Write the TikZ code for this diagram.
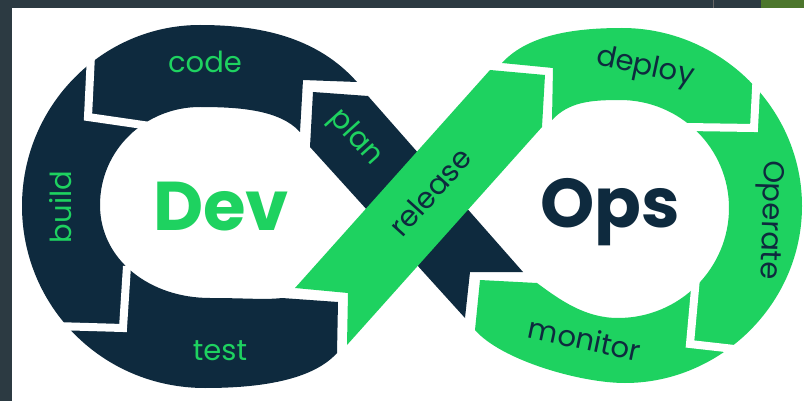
\documentclass[tikz,border=0pt]{standalone}
\usepackage{fontspec}
\setmainfont{Poppins}
\definecolor{navy}{RGB}{14,42,62}
\definecolor{leaf}{RGB}{30,210,96}
\definecolor{frame}{RGB}{44,58,66}
\definecolor{olive}{RGB}{76,118,44}

\begin{document}
\begin{tikzpicture}[x=1pt, y=-1pt,
      gap/.style = {draw=white, line width=8pt, line join=miter},
      lbl/.style = {inner sep=0pt, font=\fontsize{29}{29}\selectfont},
      big/.style = {inner sep=0pt, anchor=base west, font=\fontsize{69}{69}\selectfont\bfseries}]
    \useasboundingbox (0,0) rectangle (804,401);
    % frame
    \fill[frame] (0,0) rectangle (804,401);
    \fill[white] (12,8) rectangle (804,401);
    \fill[olive] (761,0) rectangle (804,8);
    \draw[black!60, line width=1pt] (713,0) -- (713,8);
    % left loop
    \fill[navy] (357,82) .. controls (317,37) and (260,25) .. (200,25)
      .. controls (102,25) and (22,106) .. (22,206)
      .. controls (22,306) and (102,388) .. (205,388)
      .. controls (250,388) and (310,383) .. (337,353)
      -- (338,302) -- (282,298)
      .. controls (265,300) and (245,298) .. (210,298)
      .. controls (150,298) and (100,260) .. (100,205)
      .. controls (100,150) and (145,107) .. (200,107)
      .. controls (240,107) and (280,110) .. (300,132)
      -- (303,80) -- cycle;
    \draw[gap] (91,55) -- (88,117) -- (150,126);
    \draw[gap] (127,266) -- (123,328) -- (54,326);
    % crossing bands
    \fill[navy] (313,92) -- (368,96) -- (523,272) -- (470,272) -- (465,318) -- (310,147) -- cycle;
    \fill[leaf] (348,293) -- (295,288) -- (490,70) -- (545,75) -- (542,127) -- (347,345) -- cycle;
    % right loop
    \fill[leaf] (553,68) -- (502,63) .. controls (529,33) and (580,28) .. (622,28)
      .. controls (720,28) and (802,108) .. (802,206)
      .. controls (802,304) and (720,383) .. (625,383)
      .. controls (580,383) and (501,360) .. (475,330)
      -- (480,280) -- (537,283)
      .. controls (560,300) and (585,318) .. (618,318)
      .. controls (680,318) and (729,268) .. (729,208)
      .. controls (729,148) and (680,100) .. (620,100)
      .. controls (590,100) and (569,102) .. (552,120) -- cycle;
    \draw[gap] (757,70) -- (754,128) -- (686,127);
    \draw[gap] (696,278) -- (690,344) -- (752,351);
    % words
    \node[big, text=leaf] (dev) at (153,230) {Dev};
    \node[big, text=navy] (ops) at (540,227) {Ops};
    \node[lbl, text=leaf] (code) at (205,62) {code};
    \node[lbl, text=leaf, rotate=90] (build) at (61,207) {build};
    \node[lbl, text=leaf] (test) at (220,351) {test};
    \node[lbl, text=leaf, rotate=-48] (plan) at (355,138) {plan};
    \node[lbl, text=navy, rotate=48] (release) at (430,192) {release};
    \node[lbl, text=navy, rotate=-12] (deploy) at (645,68) {deploy};
    \node[lbl, text=navy, rotate=-92] (operate) at (769,220) {Operate};
    \node[lbl, text=navy, rotate=-12] (monitor) at (585,339) {monitor};
\end{tikzpicture}
\end{document}
